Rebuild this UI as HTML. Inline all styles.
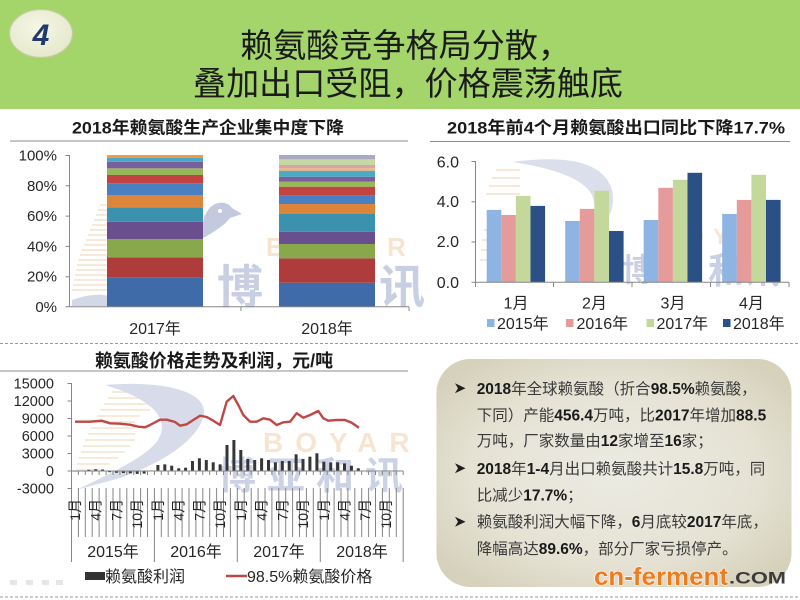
<!DOCTYPE html>
<html><head><meta charset="utf-8">
<style>
html,body{margin:0;padding:0;background:#fff;}
svg{display:block;}
text{font-family:"Liberation Sans","Noto Sans CJK SC",sans-serif;}
</style></head><body>
<svg width="800" height="600" viewBox="0 0 800 600" xmlns="http://www.w3.org/2000/svg">
<defs>
<radialGradient id="bx" cx="50%" cy="50%" r="62%">
<stop offset="0" stop-color="#ecebe2"/>
<stop offset="0.65" stop-color="#e5e2d4"/>
<stop offset="1" stop-color="#d5d1bb"/>
</radialGradient>
<radialGradient id="cg" cx="45%" cy="40%" r="60%">
<stop offset="0" stop-color="#f6f7e6"/>
<stop offset="1" stop-color="#e5e9cc"/>
</radialGradient>
</defs>
<rect width="800" height="600" fill="#fff"/>

<!-- HEADER -->
<rect x="0" y="0" width="800" height="109" fill="#a3d56b"/>
<ellipse cx="41" cy="33.5" rx="31.5" ry="24" fill="url(#cg)" stroke="#c2cc9c" stroke-width="1.2"/>
<text x="41" y="45" text-anchor="middle" font-size="30" font-weight="bold" font-style="italic" fill="#1f3a6c">4</text>
<text x="240" y="57" font-size="33" textLength="331" lengthAdjust="spacingAndGlyphs" fill="#1b1b1b">赖氨酸竞争格局分散，</text>
<text x="193" y="95" font-size="33" textLength="430" lengthAdjust="spacingAndGlyphs" fill="#1b1b1b">叠加出口受阻，价格震荡触底</text>

<!-- SUBTITLES -->
<text x="72" y="133.5" font-size="17" font-weight="bold" fill="#1a1a1a" textLength="272" lengthAdjust="spacingAndGlyphs">2018年赖氨酸生产企业集中度下降</text>
<line x1="10" y1="141" x2="408" y2="141" stroke="#8c8c8c" stroke-width="1"/>
<text x="447" y="133.5" font-size="17" font-weight="bold" fill="#1a1a1a" textLength="338" lengthAdjust="spacingAndGlyphs">2018年前4个月赖氨酸出口同比下降17.7%</text>
<line x1="430" y1="141.5" x2="790" y2="141.5" stroke="#8c8c8c" stroke-width="1"/>

<!-- TOP-LEFT WATERMARK -->
<g stroke="#f6e6d4" stroke-width="1.8">
<line x1="100" y1="205" x2="108" y2="205"/><line x1="98" y1="210" x2="108" y2="210"/>
<line x1="96" y1="215" x2="108" y2="215"/><line x1="94" y1="220" x2="108" y2="220"/>
<line x1="92" y1="225" x2="108" y2="225"/><line x1="90" y1="230" x2="108" y2="230"/>
<line x1="88" y1="235" x2="108" y2="235"/><line x1="86" y1="240" x2="108" y2="240"/>
<line x1="84" y1="245" x2="108" y2="245"/><line x1="82" y1="250" x2="108" y2="250"/>
<line x1="80" y1="255" x2="108" y2="255"/><line x1="78" y1="260" x2="108" y2="260"/>
<line x1="77" y1="265" x2="108" y2="265"/><line x1="76" y1="270" x2="108" y2="270"/>
<line x1="75" y1="275" x2="108" y2="275"/><line x1="74" y1="280" x2="108" y2="280"/>
<line x1="73" y1="285" x2="108" y2="285"/><line x1="72" y1="290" x2="108" y2="290"/>
</g>
<path d="M72,300 Q95,292 108,296 L108,306 L72,306 Z" fill="#d3d8e8"/>
<path d="M203,238 Q200,212 215,204 Q226,200 232,208 L242,214 L230,218 Q222,228 203,238 Z" fill="#c3cae0"/>
<circle cx="220" cy="211" r="2" fill="#fff"/>
<text x="266" y="256" font-size="26" font-weight="bold" fill="#f7e4cf">B</text>
<text x="387" y="256" font-size="26" font-weight="bold" fill="#f7e4cf">R</text>
<text x="217" y="303" font-size="46" font-weight="bold" fill="#c8cfe3">博</text>
<text x="379" y="303" font-size="46" font-weight="bold" fill="#c8cfe3">讯</text>

<!-- TOP-LEFT STACKED BARS -->
<g>
<rect x="107" y="277.7" width="96" height="29" fill="#3f6ca8"/>
<rect x="107" y="257.3" width="96" height="20.4" fill="#ad3c3a"/>
<rect x="107" y="239" width="96" height="18.3" fill="#88a84b"/>
<rect x="107" y="221.7" width="96" height="17.3" fill="#6a4f8e"/>
<rect x="107" y="207.3" width="96" height="14.4" fill="#3a92ae"/>
<rect x="107" y="195" width="96" height="12.3" fill="#dd853b"/>
<rect x="107" y="183.3" width="96" height="11.7" fill="#4a80c2"/>
<rect x="107" y="175" width="96" height="8.3" fill="#c2433f"/>
<rect x="107" y="168.3" width="96" height="6.7" fill="#97b758"/>
<rect x="107" y="161.7" width="96" height="6.6" fill="#7a5fa0"/>
<rect x="107" y="158" width="96" height="3.7" fill="#4aa9c5"/>
<rect x="107" y="155" width="96" height="3" fill="#f29a45"/>

<rect x="279" y="282.7" width="96" height="24" fill="#3f6ca8"/>
<rect x="279" y="258.3" width="96" height="24.4" fill="#ad3c3a"/>
<rect x="279" y="244" width="96" height="14.3" fill="#88a84b"/>
<rect x="279" y="231.7" width="96" height="12.3" fill="#6a4f8e"/>
<rect x="279" y="214" width="96" height="17.7" fill="#3a92ae"/>
<rect x="279" y="204" width="96" height="10" fill="#dd853b"/>
<rect x="279" y="195.7" width="96" height="8.3" fill="#4a80c2"/>
<rect x="279" y="186.7" width="96" height="9" fill="#c2433f"/>
<rect x="279" y="181.7" width="96" height="5" fill="#97b758"/>
<rect x="279" y="176.7" width="96" height="5" fill="#7a5fa0"/>
<rect x="279" y="170.7" width="96" height="6" fill="#4aa9c5"/>
<rect x="279" y="168.3" width="96" height="2.4" fill="#f2b47c"/>
<rect x="279" y="165" width="96" height="3.3" fill="#d8a6a2"/>
<rect x="279" y="159.3" width="96" height="5.7" fill="#c5d8a6"/>
<rect x="279" y="155" width="96" height="4.3" fill="#a9a9c4"/>
</g>
<g stroke="#868686" stroke-width="1" fill="none">
<path d="M69.5,155 V307 M65.5,155.5 H69.5 M65.5,185.8 H69.5 M65.5,216.1 H69.5 M65.5,246.4 H69.5 M65.5,276.7 H69.5 M65.5,306.7 H69.5"/>
<path d="M69.5,306.7 H409 M241,306.7 V311 M409,306.7 V311"/>
</g>
<g font-size="15" fill="#262626" text-anchor="end">
<text x="57" y="160.5">100%</text>
<text x="57" y="190.8">80%</text>
<text x="57" y="221.1">60%</text>
<text x="57" y="251.4">40%</text>
<text x="57" y="281.7">20%</text>
<text x="57" y="312">0%</text>
</g>
<g font-size="16" fill="#262626" text-anchor="middle">
<text x="155" y="334">2017年</text>
<text x="327" y="334">2018年</text>
</g>

<!-- TOP-RIGHT WATERMARK -->
<g stroke="#f6e6d4" stroke-width="1.8">
<line x1="496" y1="170" x2="520" y2="170"/><line x1="492" y1="178" x2="520" y2="178"/>
<line x1="489" y1="186" x2="520" y2="186"/><line x1="486" y1="194" x2="520" y2="194"/>
<line x1="484" y1="230" x2="520" y2="230"/><line x1="482" y1="240" x2="520" y2="240"/>
<line x1="481" y1="250" x2="520" y2="250"/><line x1="480" y1="260" x2="520" y2="260"/>
</g>
<path d="M512,162 Q600,150 612,190 Q618,222 585,236 Q600,215 592,195 Q580,172 512,162 Z" fill="#dadfeb"/>
<text x="622" y="281" font-size="32" font-weight="bold" fill="#c9d0e4">博</text>
<text x="708" y="283" font-size="36" font-weight="bold" fill="#c9d0e4">和讯</text>
<text x="662" y="244" font-size="22" font-weight="bold" fill="#f7e6d3" letter-spacing="9">BOYAR</text>

<!-- TOP-RIGHT BARS -->
<g>
<rect x="486.7" y="209.9" width="14.6" height="72.4" fill="#8db4e2"/>
<rect x="501.3" y="215" width="14.6" height="67.3" fill="#e69b9b"/>
<rect x="515.9" y="195.9" width="14.6" height="86.4" fill="#c4d89c"/>
<rect x="530.5" y="205.9" width="14.6" height="76.4" fill="#2b5085"/>

<rect x="565.2" y="221" width="14.6" height="61.3" fill="#8db4e2"/>
<rect x="579.8" y="208.9" width="14.6" height="73.4" fill="#e69b9b"/>
<rect x="594.4" y="190.8" width="14.6" height="91.5" fill="#c4d89c"/>
<rect x="609" y="231" width="14.6" height="51.3" fill="#2b5085"/>

<rect x="643.7" y="220" width="14.6" height="62.3" fill="#8db4e2"/>
<rect x="658.3" y="187.8" width="14.6" height="94.5" fill="#e69b9b"/>
<rect x="672.9" y="179.8" width="14.6" height="102.5" fill="#c4d89c"/>
<rect x="687.5" y="172.8" width="14.6" height="109.5" fill="#2b5085"/>

<rect x="722.2" y="214" width="14.6" height="68.3" fill="#8db4e2"/>
<rect x="736.8" y="199.9" width="14.6" height="82.4" fill="#e69b9b"/>
<rect x="751.4" y="174.8" width="14.6" height="107.5" fill="#c4d89c"/>
<rect x="766" y="199.9" width="14.6" height="82.4" fill="#2b5085"/>
</g>
<g stroke="#868686" stroke-width="1" fill="none">
<path d="M475.5,161 V282.3 M471.5,161.5 H475.5 M471.5,201.8 H475.5 M471.5,242 H475.5 M471.5,282.3 H475.5"/>
<path d="M475.5,282.3 H789 M475.5,282.3 V287 M553.5,282.3 V287 M632,282.3 V287 M710.5,282.3 V287 M789,282.3 V287"/>
</g>
<g font-size="16" fill="#262626" text-anchor="end">
<text x="459" y="167.5">6.0</text>
<text x="459" y="207">4.0</text>
<text x="459" y="247">2.0</text>
<text x="459" y="288">0.0</text>
</g>
<g font-size="16" fill="#262626" text-anchor="middle">
<text x="516" y="308.5">1月</text>
<text x="594.5" y="308.5">2月</text>
<text x="673" y="308.5">3月</text>
<text x="751.5" y="308.5">4月</text>
</g>
<rect x="487" y="319" width="7.5" height="8" fill="#8db4e2"/>
<text x="497" y="329" font-size="16" fill="#262626">2015年</text>
<rect x="566" y="319" width="7.5" height="8" fill="#e69b9b"/>
<text x="576.5" y="329" font-size="16" fill="#262626">2016年</text>
<rect x="646.5" y="319" width="7.5" height="8" fill="#c4d89c"/>
<text x="656.5" y="329" font-size="16" fill="#262626">2017年</text>
<rect x="723" y="319" width="7.5" height="8" fill="#2b5085"/>
<text x="733" y="329" font-size="16" fill="#262626">2018年</text>

<!-- DASHED SEPARATORS -->
<line x1="0" y1="343.5" x2="800" y2="343.5" stroke="#9a9a9a" stroke-width="1" stroke-dasharray="3,2"/>
<line x1="0" y1="597" x2="800" y2="597" stroke="#9a9a9a" stroke-width="1" stroke-dasharray="3,2"/>

<!-- BOTTOM-LEFT CHART -->
<text x="95" y="367" font-size="18" font-weight="bold" fill="#1a1a1a" textLength="238" lengthAdjust="spacingAndGlyphs">赖氨酸价格走势及利润，元/吨</text>
<line x1="0" y1="371" x2="408" y2="371" stroke="#8c8c8c" stroke-width="1"/>

<!-- watermark -->
<g stroke="#f6e7d6" stroke-width="1.8">
<line x1="112" y1="392" x2="150" y2="392"/><line x1="108" y1="398" x2="150" y2="398"/>
<line x1="104" y1="404" x2="150" y2="404"/><line x1="100" y1="410" x2="150" y2="410"/>
<line x1="97" y1="416" x2="140" y2="416"/><line x1="94" y1="422" x2="135" y2="422"/>
<line x1="91" y1="428" x2="135" y2="428"/><line x1="88" y1="434" x2="135" y2="434"/>
<line x1="85" y1="440" x2="135" y2="440"/><line x1="83" y1="446" x2="130" y2="446"/>
<line x1="81" y1="452" x2="125" y2="452"/><line x1="79" y1="458" x2="118" y2="458"/>
<line x1="77" y1="464" x2="110" y2="464"/><line x1="76" y1="470" x2="100" y2="470"/>
</g>
<path d="M105,385 C165,380 212,392 203,418 C196,440 165,462 120,478 L76,490 C118,470 148,455 158,440 C170,420 155,400 105,385 Z" fill="#d8dcea"/>
<text x="263" y="452" font-size="28" font-weight="bold" fill="#f7e5d1" letter-spacing="12">BOYAR</text>
<text x="218" y="489" font-size="38" font-weight="bold" fill="#ccd2e5" letter-spacing="11">博亚和讯</text>

<!-- profit bars -->
<g fill="#363636">
<rect x="73.5" y="471" width="3" height="0.6"/>
<rect x="87.3" y="469.8" width="3" height="1.2"/>
<rect x="94.2" y="469.25" width="3" height="1.75"/>
<rect x="101.1" y="469.5" width="3" height="1.5"/>
<rect x="108.1" y="471" width="3" height="1.2"/>
<rect x="115" y="471" width="3" height="1.75"/>
<rect x="121.9" y="471" width="3" height="2"/>
<rect x="128.8" y="471" width="3" height="2.3"/>
<rect x="135.7" y="471" width="3" height="2.9"/>
<rect x="142.6" y="471" width="3" height="2.6"/>
<rect x="149.5" y="470.4" width="3" height="0.6"/>
<rect x="156.4" y="465" width="3" height="6"/>
<rect x="163.3" y="464.35" width="3" height="6.65"/>
<rect x="170.2" y="465.7" width="3" height="5.3"/>
<rect x="177.2" y="468.3" width="3" height="2.7"/>
<rect x="184.1" y="467.7" width="3" height="3.3"/>
<rect x="191" y="461" width="3" height="10"/>
<rect x="197.9" y="458.3" width="3" height="12.7"/>
<rect x="204.8" y="460" width="3" height="11"/>
<rect x="211.7" y="462.3" width="3" height="8.7"/>
<rect x="218.6" y="464.35" width="3" height="6.65"/>
<rect x="225.5" y="445" width="3" height="26"/>
<rect x="232.4" y="440" width="3" height="31"/>
<rect x="239.3" y="450" width="3" height="21"/>
<rect x="246.3" y="459" width="3" height="12"/>
<rect x="253.2" y="460" width="3" height="11"/>
<rect x="260.1" y="458.3" width="3" height="12.7"/>
<rect x="267" y="460" width="3" height="11"/>
<rect x="273.9" y="462.3" width="3" height="8.7"/>
<rect x="280.8" y="461" width="3" height="10"/>
<rect x="287.7" y="461" width="3" height="10"/>
<rect x="294.6" y="454.3" width="3" height="16.7"/>
<rect x="301.5" y="459" width="3" height="12"/>
<rect x="308.4" y="456.7" width="3" height="14.3"/>
<rect x="315.4" y="453.3" width="3" height="17.7"/>
<rect x="322.3" y="461.7" width="3" height="9.3"/>
<rect x="329.2" y="462.3" width="3" height="8.7"/>
<rect x="336.1" y="462.3" width="3" height="8.7"/>
<rect x="343" y="463.4" width="3" height="7.6"/>
<rect x="349.9" y="465.7" width="3" height="5.3"/>
<rect x="356.8" y="468.3" width="3" height="2.7"/>
</g>

<!-- price line -->
<polyline fill="none" stroke="#bf4846" stroke-width="2.4" stroke-linejoin="round" points="75,421.7 90,421.7 101.7,420.7 110,423.3 120,423.7 130,424.7 138.3,426.7 145,427.3 150,425 160,419.7 166.7,419.7 175,422 180,425.7 186.7,424.3 193.3,420 200,415.7 206.7,417 213.3,420.7 220,425 226.7,401.7 233.3,396 238.3,405 243.3,415 250,421.7 256.7,421.7 263.3,418.3 270,419.7 276.7,425 283.3,422.3 290,421.7 296.7,413.3 303.3,417.7 310,415 318.3,411 323.3,418.3 328.3,420.7 336.7,420 345,420 351.7,422.7 359,427.7"/>

<!-- axes -->
<g stroke="#868686" stroke-width="1" fill="none">
<path d="M71.5,383 V562 M67.5,383.5 H71.5 M67.5,401 H71.5 M67.5,418.5 H71.5 M67.5,436 H71.5 M67.5,453.5 H71.5 M67.5,471 H71.5 M67.5,488.5 H71.5"/>
<path d="M71.5,471 H403.2"/>
<path d="M78.4,471V475 M85.3,471V475 M92.2,471V475 M99.1,471V475 M106.1,471V475 M113,471V475 M119.9,471V475 M126.8,471V475 M133.7,471V475 M140.6,471V475 M147.5,471V475 M154.4,471V475 M161.3,471V475 M168.2,471V475 M175.2,471V475 M182.1,471V475 M189,471V475 M195.9,471V475 M202.8,471V475 M209.7,471V475 M216.6,471V475 M223.5,471V475 M230.4,471V475 M237.3,471V475 M244.2,471V475 M251.2,471V475 M258.1,471V475 M265,471V475 M271.9,471V475 M278.8,471V475 M285.7,471V475 M292.6,471V475 M299.5,471V475 M306.4,471V475 M313.3,471V475 M320.3,471V475 M327.2,471V475 M334.1,471V475 M341,471V475 M347.9,471V475 M354.8,471V475 M361.7,471V475 M368.6,471V475 M375.5,471V475 M382.4,471V475 M389.3,471V475 M396.3,471V475 M403.2,471V475"/>
<path d="M78.4,488V537 M85.3,488V537 M92.2,488V537 M99.1,488V537 M106.1,488V537 M113,488V537 M119.9,488V537 M126.8,488V537 M133.7,488V537 M140.6,488V537 M147.5,488V537 M161.3,488V537 M168.2,488V537 M175.2,488V537 M182.1,488V537 M189,488V537 M195.9,488V537 M202.8,488V537 M209.7,488V537 M216.6,488V537 M223.5,488V537 M230.4,488V537 M244.2,488V537 M251.2,488V537 M258.1,488V537 M265,488V537 M271.9,488V537 M278.8,488V537 M285.7,488V537 M292.6,488V537 M299.5,488V537 M306.4,488V537 M313.3,488V537 M327.2,488V537 M334.1,488V537 M341,488V537 M347.9,488V537 M354.8,488V537 M361.7,488V537 M368.6,488V537 M375.5,488V537 M382.4,488V537 M389.3,488V537 M396.3,488V537"/>
<path d="M154.4,488V562 M237.3,488V562 M320.3,488V562 M403.2,488V562"/>
</g>
<g font-size="14.5" fill="#262626" text-anchor="end">
<text x="54" y="388.5">15000</text>
<text x="54" y="406">12000</text>
<text x="54" y="423.5">9000</text>
<text x="54" y="441">6000</text>
<text x="54" y="458.5">3000</text>
<text x="54" y="476">0</text>
<text x="54" y="493.5">-3000</text>
</g>
<g font-size="14" fill="#262626" text-anchor="end">
<text transform="translate(80,499) rotate(-90)">1月</text>
<text transform="translate(100.7,499) rotate(-90)">4月</text>
<text transform="translate(121.5,499) rotate(-90)">7月</text>
<text transform="translate(142.2,499) rotate(-90)">10月</text>
<text transform="translate(162.9,499) rotate(-90)">1月</text>
<text transform="translate(183.7,499) rotate(-90)">4月</text>
<text transform="translate(204.4,499) rotate(-90)">7月</text>
<text transform="translate(225.1,499) rotate(-90)">10月</text>
<text transform="translate(245.8,499) rotate(-90)">1月</text>
<text transform="translate(266.6,499) rotate(-90)">4月</text>
<text transform="translate(287.3,499) rotate(-90)">7月</text>
<text transform="translate(308,499) rotate(-90)">10月</text>
<text transform="translate(328.8,499) rotate(-90)">1月</text>
<text transform="translate(349.5,499) rotate(-90)">4月</text>
<text transform="translate(370.2,499) rotate(-90)">7月</text>
<text transform="translate(391,499) rotate(-90)">10月</text>
</g>
<g font-size="16" fill="#262626" text-anchor="middle">
<text x="113" y="557">2015年</text>
<text x="196" y="557">2016年</text>
<text x="279" y="557">2017年</text>
<text x="362" y="557">2018年</text>
</g>
<rect x="85" y="572" width="20" height="8" fill="#333"/>
<text x="105" y="582" font-size="16" fill="#262626">赖氨酸利润</text>
<line x1="226" y1="576" x2="247" y2="576" stroke="#bf4846" stroke-width="2.4"/>
<text x="247" y="582" font-size="16" fill="#262626">98.5%赖氨酸价格</text>

<!-- BOTTOM-RIGHT TEXT BOX -->
<rect x="436.5" y="359" width="355" height="228" rx="34" ry="34" fill="url(#bx)"/>
<g fill="#1e1e1e">
<path d="M455,383.3 L465.5,388.3 L455,393.3 L458,388.3 Z"/>
<path d="M455,463.3 L465.5,468.3 L455,473.3 L458,468.3 Z"/>
<path d="M455,516.7 L465.5,521.7 L455,526.7 L458,521.7 Z"/>
</g>
<g font-size="15.5" fill="#3a3a3a">
<text x="476.7" y="394"><tspan font-weight="bold" fill="#1a1a1a">2018</tspan>年全球赖氨酸（折合<tspan font-weight="bold" fill="#1a1a1a">98.5%</tspan>赖氨酸，</text>
<text x="476.7" y="420.5">下同）产能<tspan font-weight="bold" fill="#1a1a1a">456.4</tspan>万吨，比<tspan font-weight="bold" fill="#1a1a1a">2017</tspan>年增加<tspan font-weight="bold" fill="#1a1a1a">88.5</tspan></text>
<text x="476.7" y="446.2">万吨，厂家数量由<tspan font-weight="bold" fill="#1a1a1a">12</tspan>家增至<tspan font-weight="bold" fill="#1a1a1a">16</tspan>家；</text>
<text x="476.7" y="473.8"><tspan font-weight="bold" fill="#1a1a1a">2018</tspan>年<tspan font-weight="bold" fill="#1a1a1a">1-4</tspan>月出口赖氨酸共计<tspan font-weight="bold" fill="#1a1a1a">15.8</tspan>万吨，同</text>
<text x="476.7" y="500.5">比减少<tspan font-weight="bold" fill="#1a1a1a">17.7%</tspan>；</text>
<text x="476.7" y="527.2">赖氨酸利润大幅下降，<tspan font-weight="bold" fill="#1a1a1a">6</tspan>月底较<tspan font-weight="bold" fill="#1a1a1a">2017</tspan>年底，</text>
<text x="476.7" y="553.8">降幅高达<tspan font-weight="bold" fill="#1a1a1a">89.6%</tspan>，部分厂家亏损停产。</text>
</g>
<text x="594" y="585" font-size="25" font-weight="bold" fill="#f07b1c" stroke="#ffffff" stroke-width="1.2" paint-order="stroke" textLength="134" lengthAdjust="spacingAndGlyphs">cn-ferment</text>
<text x="729" y="583.5" font-size="17" font-weight="bold" fill="#3c3c3c" textLength="57" lengthAdjust="spacingAndGlyphs">.COM</text>

<!-- faint icons bottom-left -->
<g fill="#e6e6e6">
<rect x="10" y="580" width="7" height="5"/>
<rect x="26" y="580" width="7" height="5"/>
<rect x="42" y="580" width="7" height="5"/>
<rect x="56" y="580" width="7" height="5"/>
</g>
</svg>
</body></html>
